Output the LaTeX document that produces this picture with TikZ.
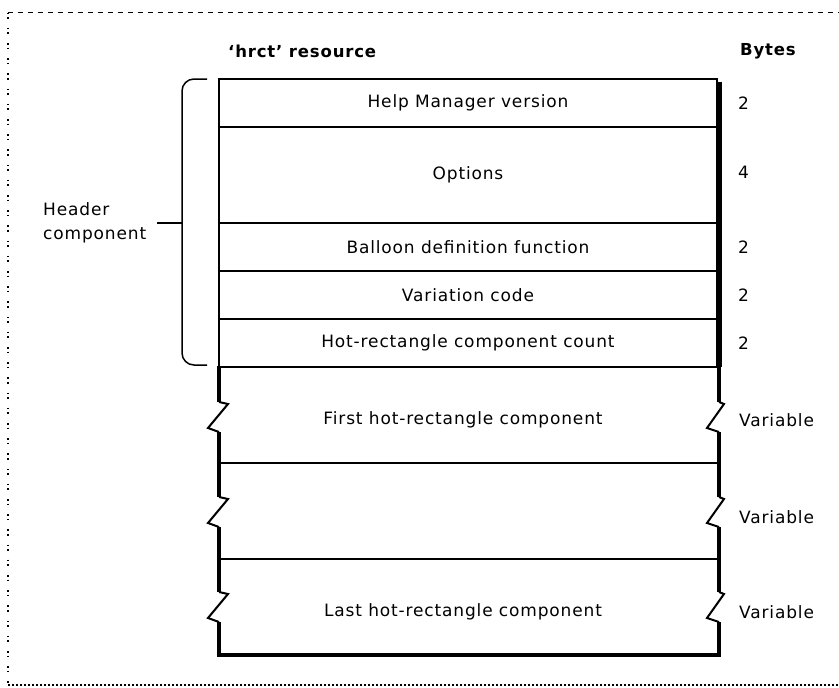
\documentclass[tikz,border=0pt]{standalone}
\usepackage{fontspec}
\setmainfont[LetterSpace=5]{DejaVu Sans}
\begin{document}
\begin{tikzpicture}[x=1pt,y=-1pt,
  lbl/.style={font=\fontsize{17}{24}\selectfont, inner sep=0pt},
  hd/.style={font=\bfseries\fontsize{16.5}{18}\selectfont, inner sep=0pt},
  cell/.style={draw, line width=1.6pt, minimum width=498pt, inner sep=0pt, font=\fontsize{17}{20}\selectfont},
  edge/.style={line width=3.6pt},
  zig/.style={line width=2pt, line join=miter},
  sep/.style={line width=1.6pt},
  brace/.style={line width=1.5pt, rounded corners=12pt}]
\useasboundingbox (0,0) rectangle (839,688);
% frame
\draw[line width=1.4pt, dash pattern=on 5pt off 5pt] (8,12.5) -- (839,12.5);
\draw[line width=1.6pt, dash pattern=on 1.6pt off 3pt on 1.6pt off 9pt] (8,12.5) -- (8,685);
\draw[line width=1.4pt, dash pattern=on 2pt off 2pt] (8,685) -- (839,685);
% headings
\node[hd, anchor=west] (h1) at (228,51) {`hrct' resource};
\node[hd, anchor=west] (h2) at (740,51) {Bytes};
% header rows
\node[cell, minimum height=48pt] (r1) at (468,103) {Help Manager version};
\node[cell, minimum height=96pt] (r2) at (468,175) {Options};
\node[cell, minimum height=48pt] (r3) at (468,247) {Balloon definition function};
\node[cell, minimum height=48pt] (r4) at (468,295) {Variation code};
\node[cell, minimum height=48pt] (r5) at (468,343) {Hot-rectangle component count};
\draw[edge] (720,82) -- (720,367);
% bytes
\node[lbl, anchor=west] (b1) at (738,103) {2};
\node[lbl, anchor=west] (b2) at (738,172) {4};
\node[lbl, anchor=west] (b3) at (738,247) {2};
\node[lbl, anchor=west] (b4) at (738,295) {2};
\node[lbl, anchor=west] (b5) at (738,343) {2};
\node[lbl, anchor=west] (b6) at (739,420) {Variable};
\node[lbl, anchor=west] (b7) at (739,517) {Variable};
\node[lbl, anchor=west] (b8) at (739,612) {Variable};
% lower rows
\node[lbl] (t6) at (463,420) {First hot-rectangle component};
\node[lbl] (t8) at (463,612) {Last hot-rectangle component};
\coordinate (s1l) at (219,463); \coordinate (s1r) at (719,463);
\coordinate (s2l) at (219,559); \coordinate (s2r) at (719,559);
\draw[sep] (s1l) -- (s1r);
\draw[sep] (s2l) -- (s2r);
% left and right edges with breaks
\draw[edge] (219,366) -- (219,402);
\draw[edge] (219,432) -- (219,497);
\draw[edge] (219,527) -- (219,592);
\draw[edge] (219,622) -- (219,655);
\draw[edge] (719,366) -- (719,402);
\draw[edge] (719,432) -- (719,497);
\draw[edge] (719,527) -- (719,592);
\draw[edge] (719,622) -- (719,655);
\foreach \y in {402,497,592}{
  \draw[zig] (219,\y) -- (228,\y+2) -- (208,\y+26) -- (219,\y+30);
  \draw[zig] (719,\y) -- (724,\y+2) -- (707,\y+26) -- (719,\y+30);
}
\draw[edge] (217.2,655) -- (720.8,655);
% bracket
\node[lbl, anchor=west, align=left] (hc) at (43,223) {Header\\component};
\coordinate (bt) at (207,79); \coordinate (bb) at (207,365);
\coordinate (tk) at (157,223); \coordinate (tm) at (182,223);
\draw[brace] (bt) -- (182,79) -- (182,365) -- (bb);
\draw[line width=1.5pt] (tk) -- (tm);
\end{tikzpicture}
\end{document}
